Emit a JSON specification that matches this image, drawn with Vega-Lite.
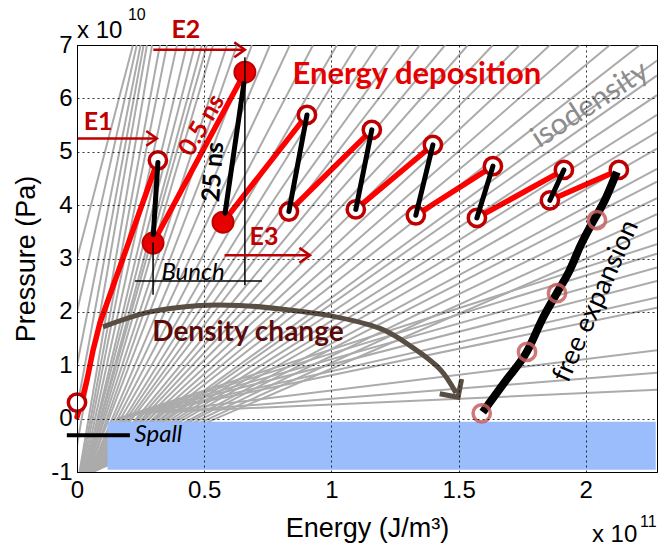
{
 "$schema": "https://vega.github.io/schema/vega-lite/v6.json",
 "width": 580, "height": 427,
 "autosize": {"type": "none"},
 "padding": {"left": 77, "top": 45, "right": 2, "bottom": 78},
 "background": "white",
 "config": {"view": {"stroke": "black", "strokeWidth": 1}},
 "datasets": {
  "iso": [
   {"id":"t1","E":0,"P":3.0},{"id":"t1","E":0.22,"P":7},
   {"id":"t2","E":0,"P":2.0},{"id":"t2","E":0.235,"P":7},
   {"id":"t3","E":0,"P":1.0},{"id":"t3","E":0.25,"P":7},
   {"id":"t4","E":0,"P":0.2},{"id":"t4","E":0.262,"P":7},
   {"id":"t5","E":0,"P":-0.5},{"id":"t5","E":0.275,"P":7},
   {"id":"t6","E":0.01,"P":-1},{"id":"t6","E":0.295,"P":7},
   {"id":"t7","E":0.015,"P":-1},{"id":"t7","E":0.326,"P":7},
   {"id":"t8","E":0.02,"P":-1},{"id":"t8","E":0.354,"P":7},
   {"id":"t9","E":0.025,"P":-1},{"id":"t9","E":0.393,"P":7},
   {"id":"t10","E":0.03,"P":-1},{"id":"t10","E":0.432,"P":7},
   {"id":"t11","E":0.03,"P":-1},{"id":"t11","E":0.464,"P":7},
   {"id":"t12","E":0.035,"P":-1},{"id":"t12","E":0.491,"P":7},
   {"id":"t13","E":0.035,"P":-1},{"id":"t13","E":0.511,"P":7},
   {"id":"t14","E":0.04,"P":-1},{"id":"t14","E":0.535,"P":7},
   {"id":"t15","E":0.04,"P":-1},{"id":"t15","E":0.590,"P":7},
   {"id":"t16","E":0.045,"P":-1},{"id":"t16","E":0.629,"P":7},
   {"id":"t17","E":0.045,"P":-1},{"id":"t17","E":0.688,"P":7},
   {"id":"t18","E":0.05,"P":-1},{"id":"t18","E":0.759,"P":7},
   {"id":"t19","E":0.05,"P":-1},{"id":"t19","E":0.837,"P":7},
   {"id":"t20","E":0.05,"P":-1},{"id":"t20","E":0.928,"P":7},
   {"id":"t21","E":0.05,"P":-1},{"id":"t21","E":1.022,"P":7},
   {"id":"t22","E":0.055,"P":-1},{"id":"t22","E":1.101,"P":7},
   {"id":"t23","E":0.055,"P":-1},{"id":"t23","E":1.183,"P":7},
   {"id":"t24","E":0.055,"P":-1},{"id":"t24","E":1.270,"P":7},
   {"id":"t25","E":0.055,"P":-1},{"id":"t25","E":1.348,"P":7},
   {"id":"t26","E":0.06,"P":-1},{"id":"t26","E":1.447,"P":7},
   {"id":"t27","E":0.06,"P":-1},{"id":"t27","E":1.537,"P":7},
   {"id":"t28","E":0.06,"P":-1},{"id":"t28","E":1.635,"P":7},
   {"id":"t29","E":0.06,"P":-1},{"id":"t29","E":1.741,"P":7},
   {"id":"t30","E":0.06,"P":-1},{"id":"t30","E":1.859,"P":7},
   {"id":"t31","E":0.06,"P":-1},{"id":"t31","E":1.977,"P":7},
   {"id":"t32","E":0.06,"P":-1},{"id":"t32","E":2.095,"P":7},
   {"id":"t33","E":0.06,"P":-1},{"id":"t33","E":2.213,"P":7},
   {"id":"s1","E":0.06,"P":-1},{"id":"s1","E":2.28,"P":6.71},
   {"id":"s2","E":0.06,"P":-1},{"id":"s2","E":2.28,"P":6.43},
   {"id":"s3","E":0.06,"P":-1},{"id":"s3","E":2.28,"P":6.06},
   {"id":"s4","E":0.06,"P":-1},{"id":"s4","E":2.28,"P":5.69},
   {"id":"s5","E":0.06,"P":-1},{"id":"s5","E":2.28,"P":5.37},
   {"id":"s6","E":0.06,"P":-1},{"id":"s6","E":2.28,"P":5.06},
   {"id":"s7","E":0.06,"P":-1},{"id":"s7","E":2.28,"P":4.68},
   {"id":"s8","E":0.06,"P":-1},{"id":"s8","E":2.28,"P":4.44},
   {"id":"s9","E":0.06,"P":-1},{"id":"s9","E":2.28,"P":4.13},
   {"id":"s10","E":0.06,"P":-1},{"id":"s10","E":2.28,"P":3.83},
   {"id":"s11","E":0.06,"P":-1},{"id":"s11","E":2.28,"P":3.57},
   {"id":"k1","E":0.06,"P":-1},{"id":"k1","E":0.16,"P":0.0},{"id":"k1","E":2.28,"P":3.27},
   {"id":"k2","E":0.06,"P":-1},{"id":"k2","E":0.18,"P":0.02},{"id":"k2","E":2.28,"P":3.09},
   {"id":"k3","E":0.06,"P":-1},{"id":"k3","E":0.20,"P":0.04},{"id":"k3","E":2.28,"P":2.83},
   {"id":"k4","E":0.06,"P":-1},{"id":"k4","E":0.22,"P":0.06},{"id":"k4","E":2.28,"P":2.58},
   {"id":"k5","E":0.06,"P":-1},{"id":"k5","E":0.25,"P":0.08},{"id":"k5","E":2.28,"P":2.27},
   {"id":"k6","E":0.06,"P":-1},{"id":"k6","E":0.28,"P":0.10},{"id":"k6","E":2.28,"P":2.08},
   {"id":"k7","E":0.06,"P":-1},{"id":"k7","E":0.31,"P":0.12},{"id":"k7","E":2.28,"P":1.28},
   {"id":"k8","E":0.06,"P":-1},{"id":"k8","E":0.34,"P":0.12},{"id":"k8","E":2.28,"P":0.86},
   {"id":"k9","E":0.06,"P":-1},{"id":"k9","E":0.37,"P":0.13},{"id":"k9","E":2.28,"P":0.54}
  ],
  "red": [
   {"id":"r1","E":0,"P":0.03},{"id":"r1","E":0.02,"P":0.35},{"id":"r1","E":0.039,"P":0.72},{"id":"r1","E":0.063,"P":1.28},{"id":"r1","E":0.09,"P":1.79},{"id":"r1","E":0.318,"P":4.84},
   {"id":"r2","E":0.299,"P":3.29},{"id":"r2","E":0.66,"P":6.49},
   {"id":"r3","E":0.574,"P":3.68},{"id":"r3","E":0.904,"P":5.69},
   {"id":"r4","E":0.833,"P":3.88},{"id":"r4","E":1.159,"P":5.41},
   {"id":"r5","E":1.096,"P":3.92},{"id":"r5","E":1.399,"P":5.13},
   {"id":"r6","E":1.332,"P":3.81},{"id":"r6","E":1.635,"P":4.73},
   {"id":"r7","E":1.572,"P":3.76},{"id":"r7","E":1.914,"P":4.66},
   {"id":"r8","E":1.859,"P":4.09},{"id":"r8","E":2.13,"P":4.66}
  ],
  "openc": [
   {"E":0.318,"P":4.84},{"E":0.904,"P":5.69},{"E":1.159,"P":5.41},{"E":1.399,"P":5.13},{"E":1.635,"P":4.73},{"E":1.914,"P":4.66},{"E":2.13,"P":4.66},
   {"E":0.833,"P":3.88},{"E":1.096,"P":3.92},{"E":1.332,"P":3.81},{"E":1.572,"P":3.76},{"E":1.859,"P":4.09},{"E":0,"P":0.3}
  ],
  "filledc": [{"E":0.299,"P":3.29},{"E":0.66,"P":6.49},{"E":0.574,"P":3.68}],
  "black": [
   {"id":"b1","E":0.318,"P":4.8},{"id":"b1","E":0.300,"P":3.45},
   {"id":"b2","E":0.656,"P":6.28},{"id":"b2","E":0.582,"P":3.85},
   {"id":"b3","E":0.904,"P":5.69},{"id":"b3","E":0.833,"P":3.88},
   {"id":"b4","E":1.159,"P":5.41},{"id":"b4","E":1.096,"P":3.92},
   {"id":"b5","E":1.399,"P":5.13},{"id":"b5","E":1.332,"P":3.81},
   {"id":"b6","E":1.635,"P":4.73},{"id":"b6","E":1.572,"P":3.76},
   {"id":"b7","E":1.914,"P":4.66},{"id":"b7","E":1.859,"P":4.09}
  ],
  "freeexp": [
   {"E":2.122,"P":4.62},{"E":2.075,"P":4.09},{"E":2.027,"P":3.68},{"E":1.980,"P":3.25},{"E":1.937,"P":2.78},
   {"E":1.886,"P":2.35},{"E":1.831,"P":1.88},{"E":1.768,"P":1.25},{"E":1.682,"P":0.69},{"E":1.595,"P":0.12}
  ],
  "fadedc": [{"E":1.591,"P":0.10},{"E":1.769,"P":1.25},{"E":1.887,"P":2.35},{"E":2.044,"P":3.72}],
  "brown": [
   {"E":0.102,"P":1.72},{"E":0.287,"P":2.0},{"E":0.483,"P":2.12},{"E":0.640,"P":2.12},{"E":0.809,"P":2.05},
   {"E":0.994,"P":1.93},{"E":1.191,"P":1.69},{"E":1.320,"P":1.33},{"E":1.426,"P":0.93},{"E":1.49,"P":0.48}
  ],
  "thin": [
   {"id":"h","E":0.228,"P":2.58},{"id":"h","E":0.727,"P":2.58},
   {"id":"v1","E":0.299,"P":3.3},{"id":"v1","E":0.299,"P":2.32},
   {"id":"v2","E":0.66,"P":6.77},{"id":"v2","E":0.66,"P":2.5}
  ],
  "arrows": [
   {"id":"E1","E":0,"P":5.25},{"id":"E1","E":0.31,"P":5.25},
   {"id":"E2","E":0.30,"P":6.91},{"id":"E2","E":0.655,"P":6.91},
   {"id":"E3","E":0.58,"P":3.06},{"id":"E3","E":0.912,"P":3.06}
  ],
  "heads": [{"E":0.314,"P":5.25},{"E":0.66,"P":6.91},{"E":0.916,"P":3.06}]
 },
 "encoding": {
  "x": {"field": "E", "type": "quantitative",
   "scale": {"domain": [0, 2.28], "nice": false, "zero": false},
   "axis": {"title": "Energy (J/m³)", "values": [0, 0.5, 1, 1.5, 2], "labelExpr": "'' + datum.value",
    "grid": true, "gridColor": "black", "gridDash": [2, 3], "gridWidth": 0.8, "gridOpacity": 1,
    "ticks": false, "domain": true, "domainColor": "black", "domainWidth": 1,
    "labelFont": "Liberation Sans", "labelFontSize": 24, "labelColor": "black", "labelPadding": 6, "labelFlush": false,
    "titleFont": "Liberation Sans", "titleFontSize": 27, "titleFontWeight": "normal", "titleColor": "black", "titlePadding": 13, "zindex": 1}},
  "y": {"field": "P", "type": "quantitative",
   "scale": {"domain": [-1, 7], "nice": false, "zero": false},
   "axis": {"title": "Pressure (Pa)", "values": [-1, 0, 1, 2, 3, 4, 5, 6, 7], "labelExpr": "'' + datum.value",
    "grid": true, "gridColor": "black", "gridDash": [2, 3], "gridWidth": 0.8, "gridOpacity": 1,
    "ticks": false, "domain": true, "domainColor": "black", "domainWidth": 1,
    "labelFont": "Liberation Sans", "labelFontSize": 24, "labelColor": "black", "labelPadding": 5, "labelFlush": false,
    "titleFont": "Liberation Sans", "titleFontSize": 27, "titleFontWeight": "normal", "titleColor": "black", "titlePadding": 10, "zindex": 1}}
 },
 "layer": [
  {"data": {"name": "iso"}, "mark": {"type": "line", "clip": true, "color": "#ababab", "strokeWidth": 2}, "encoding": {"detail": {"field": "id"}}},
  {"data": {"values": [{"E": 0.12, "E2": 2.275, "P": -0.06, "P2": -0.96}]}, "mark": {"type": "rect", "color": "#9cbdfc"},
   "encoding": {"x2": {"field": "E2"}, "y2": {"field": "P2"}}},
  {"data": {"values": [{"E": -0.04, "P": -0.31}, {"E": 0.208, "P": -0.31}]}, "mark": {"type": "line", "color": "black", "strokeWidth": 4}, "encoding": {}},
  {"data": {"name": "brown"}, "mark": {"type": "line", "color": "#594e43", "strokeWidth": 5, "interpolate": "cardinal"}, "encoding": {}},
  {"data": {"values": [{"E": 1.498, "P": 0.40}]}, "mark": {"type": "point", "shape": "M -1 -1 L 0 0 L -1 1", "size": 700, "filled": false, "stroke": "#594e43", "strokeWidth": 5, "angle": 56, "opacity": 1}},
  {"data": {"name": "red"}, "mark": {"type": "line", "color": "#ff0000", "strokeWidth": 5.5, "strokeCap": "round"}, "encoding": {"detail": {"field": "id"}}},
  {"data": {"name": "openc"}, "mark": {"type": "point", "shape": "circle", "size": 300, "filled": false, "fill": "white", "fillOpacity": 1, "stroke": "#c00000", "strokeWidth": 3.5, "opacity": 1}},
  {"data": {"name": "filledc"}, "mark": {"type": "point", "shape": "circle", "size": 440, "filled": true, "fill": "#e60000", "stroke": "#c00000", "strokeWidth": 2, "opacity": 1}},
  {"data": {"name": "black"}, "mark": {"type": "line", "color": "black", "strokeWidth": 5, "strokeCap": "round"}, "encoding": {"detail": {"field": "id"}}},
  {"data": {"name": "freeexp"}, "mark": {"type": "line", "color": "black", "strokeWidth": 8, "interpolate": "monotone"}, "encoding": {}},
  {"data": {"name": "fadedc"}, "mark": {"type": "point", "shape": "circle", "size": 300, "filled": false, "stroke": "#c86060", "strokeWidth": 3.5, "opacity": 0.85}},
  {"data": {"name": "thin"}, "mark": {"type": "line", "color": "black", "strokeWidth": 1.5}, "encoding": {"detail": {"field": "id"}}},
  {"data": {"name": "arrows"}, "mark": {"type": "line", "color": "#c00000", "strokeWidth": 2.5}, "encoding": {"detail": {"field": "id"}}},
  {"data": {"name": "heads"}, "mark": {"type": "point", "shape": "M -1 -0.7 L 0 0 L -1 0.7", "size": 450, "filled": false, "stroke": "#c00000", "strokeWidth": 2.5, "opacity": 1}},
  {"data": {"values": [{"E": 0.083, "P": 5.55, "t": "E1"}, {"E": 0.428, "P": 7.28, "t": "E2"}, {"E": 0.735, "P": 3.40, "t": "E3"}]},
   "mark": {"type": "text", "font": "Lato", "fontSize": 25, "fontWeight": "bold", "color": "#c00000"}, "encoding": {"text": {"field": "t"}}},
  {"data": {"values": [{"E": 1.336, "P": 6.44, "t": "Energy deposition"}]},
   "mark": {"type": "text", "font": "Lato", "fontSize": 31, "fontWeight": "bold", "color": "#e60000"}, "encoding": {"text": {"field": "t"}}},
  {"data": {"values": [{"E": 2.017, "P": 5.88, "t": "isodensity"}]},
   "mark": {"type": "text", "font": "Lato", "fontSize": 30, "angle": -33, "color": "#8c8c8c"}, "encoding": {"text": {"field": "t"}}},
  {"data": {"values": [{"E": 0.49, "P": 5.5, "t": "0.5 ns"}]},
   "mark": {"type": "text", "font": "Lato", "fontSize": 25, "fontWeight": "bold", "angle": -60, "color": "#d00000"}, "encoding": {"text": {"field": "t"}}},
  {"data": {"values": [{"E": 0.535, "P": 4.62, "t": "25 ns"}]},
   "mark": {"type": "text", "font": "Lato", "fontSize": 25, "fontWeight": "bold", "angle": -86, "color": "black"}, "encoding": {"text": {"field": "t"}}},
  {"data": {"values": [{"E": 0.456, "P": 2.73, "t": "Bunch"}, {"E": 0.32, "P": -0.31, "t": "Spall"}]},
   "mark": {"type": "text", "font": "Lato", "fontSize": 24, "fontStyle": "italic", "color": "black"}, "encoding": {"text": {"field": "t"}}},
  {"data": {"values": [{"E": 0.672, "P": 1.60, "t": "Density change"}]},
   "mark": {"type": "text", "font": "Lato", "fontSize": 28, "fontWeight": "bold", "color": "#5c0b0b"}, "encoding": {"text": {"field": "t"}}},
  {"data": {"values": [{"E": 2.04, "P": 2.2, "t": "free expansion"}]},
   "mark": {"type": "text", "font": "Lato", "fontSize": 27, "angle": -66, "color": "black"}, "encoding": {"text": {"field": "t"}}},
  {"data": {"values": [{"E": 0, "P": 7.13, "t": "x 10"}, {"E": 2.024, "P": -2.31, "t": "x 10"}]},
   "mark": {"type": "text", "font": "Liberation Sans", "fontSize": 24, "align": "left", "baseline": "alphabetic", "color": "black"}, "encoding": {"text": {"field": "t"}}},
  {"data": {"values": [{"E": 0.2, "P": 7.47, "t": "10"}, {"E": 2.213, "P": -2.03, "t": "11"}]},
   "mark": {"type": "text", "font": "Liberation Sans", "fontSize": 16, "align": "left", "baseline": "alphabetic", "color": "black"}, "encoding": {"text": {"field": "t"}}}
 ]
}
